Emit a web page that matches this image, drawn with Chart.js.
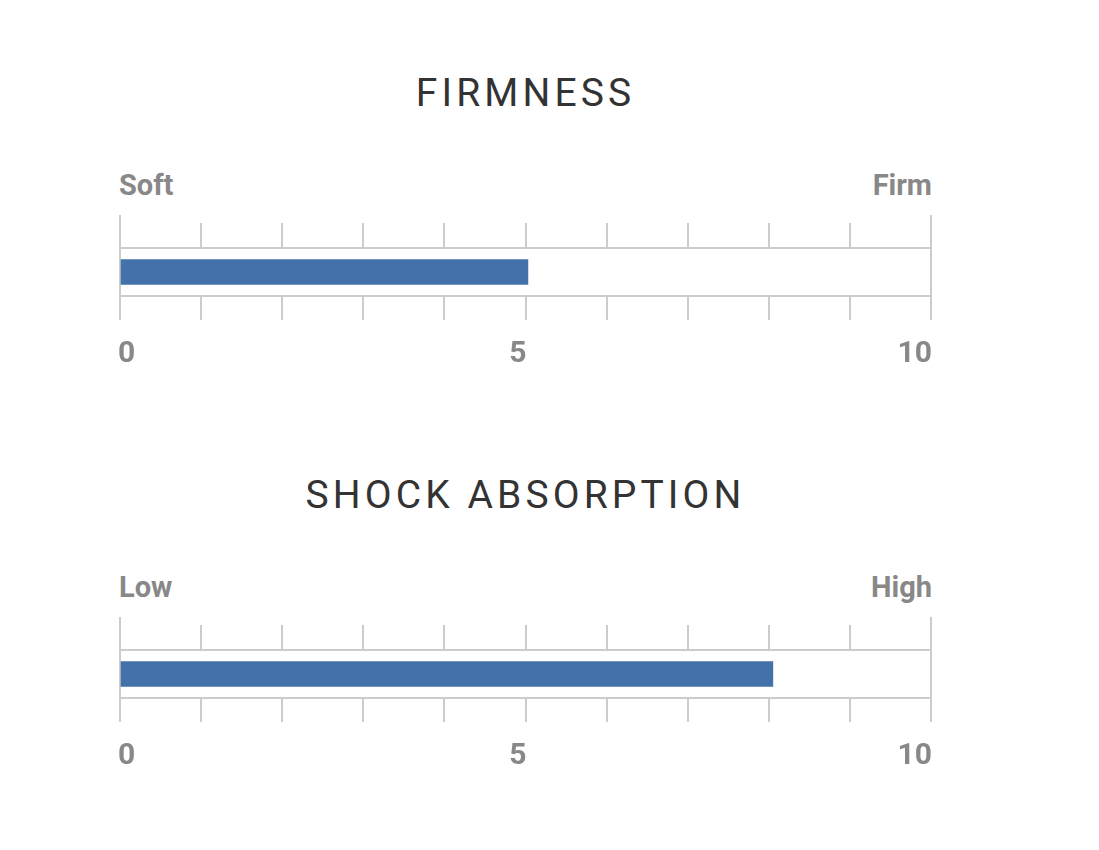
<!DOCTYPE html>
<html>
<head>
<meta charset="utf-8">
<script src="https://cdn.jsdelivr.net/npm/chart.js@4/dist/chart.umd.min.js"></script>
<style>
    html, body { margin: 0; padding: 0; background: #fff; }
    body { width: 1099px; height: 850px; position: relative; overflow: hidden; font-family: Roboto, "Noto Sans", sans-serif; }
    .title { position: absolute; left: 120px; width: 811px; text-align: center; font-size: 39px; line-height: 39px; letter-spacing: 4.1px; color: #333; white-space: nowrap; }
    .ends { position: absolute; left: 119px; width: 813px; display: flex; justify-content: space-between; font-size: 29px; line-height: 29px; font-weight: bold; color: #888; }
    .box { position: absolute; left: 0; width: 1099px; height: 200px; }
</style>
</head>
<body>
<div id="panels"></div>
<script>
// gauge data
const panelTitles = ['FIRMNESS', 'SHOCK ABSORPTION'];
const lowLabels = ['Soft', 'Low'];
const highLabels = ['Firm', 'High'];
const scores = [5.03, 8.05];
const scaleMin = 0;
const scaleMax = 10;
const tickLabels = [0, 5, 10];

const LINE = '#cccccc';
const BAR = '#4372aa';
const LABEL = '#888888';
const PANEL_STEP = 402;

// draws the long end marks above the band and the 0 / 5 / 10 labels
const gaugeExtras = {
    id: 'gaugeExtras',
    afterDraw(chart) {
        const ctx = chart.ctx;
        const area = chart.chartArea;
        const x = chart.scales.x;
        ctx.save();
        ctx.strokeStyle = LINE;
        ctx.lineWidth = 2;
        [scaleMin, scaleMax].forEach(v => {
            const px = Math.round(x.getPixelForValue(v));
            ctx.beginPath();
            ctx.moveTo(px, area.top - 33);
            ctx.lineTo(px, area.top);
            ctx.stroke();
        });
        ctx.fillStyle = LABEL;
        ctx.font = 'bold 30px Roboto';
        ctx.textBaseline = 'alphabetic';
        tickLabels.forEach(v => {
            ctx.textAlign = v === scaleMin ? 'left' : 'right';
            const px = x.getPixelForValue(v) + (v === scaleMin ? -2 : 1);
            ctx.fillText(String(v), px, area.bottom + 66);
        });
        ctx.restore();
    }
};

function isEnd(c) {
    return c.tick && (c.tick.value === scaleMin || c.tick.value === scaleMax);
}

const panels = document.getElementById('panels');

panelTitles.forEach((title, i) => {
    const off = i * PANEL_STEP;

    const t = document.createElement('div');
    t.className = 'title';
    t.style.top = (107 - 33 + off) + 'px';
    t.textContent = title;
    panels.appendChild(t);

    const ends = document.createElement('div');
    ends.className = 'ends';
    ends.style.top = (195 - 24 + off) + 'px';
    ends.innerHTML = '<span>' + lowLabels[i] + '</span><span>' + highLabels[i] + '</span>';
    panels.appendChild(ends);

    const box = document.createElement('div');
    box.className = 'box';
    box.style.top = (200 + off) + 'px';
    const canvas = document.createElement('canvas');
    box.appendChild(canvas);
    panels.appendChild(box);

    new Chart(canvas.getContext('2d'), {
        type: 'bar',
        data: {
            labels: [title],
            datasets: [{
                data: [scores[i]],
                backgroundColor: BAR,
                borderWidth: 0,
                barThickness: 25
            }]
        },
        options: {
            indexAxis: 'y',
            responsive: true,
            maintainAspectRatio: false,
            animation: false,
            layout: { padding: { left: 120, right: 168, top: 23, bottom: 80 } },
            plugins: {
                legend: { display: false },
                tooltip: { enabled: false }
            },
            scales: {
                x: {
                    type: 'linear',
                    position: 'bottom',
                    min: scaleMin,
                    max: scaleMax,
                    ticks: { stepSize: 1, display: false },
                    grid: {
                        color: c => isEnd(c) ? LINE : 'rgba(0,0,0,0)',
                        tickColor: LINE,
                        lineWidth: 2,
                        tickWidth: 2,
                        tickLength: 24
                    },
                    border: { display: true, color: LINE, width: 2 }
                },
                xTop: {
                    type: 'linear',
                    position: 'top',
                    min: scaleMin,
                    max: scaleMax,
                    ticks: { stepSize: 1, display: false },
                    grid: {
                        drawOnChartArea: false,
                        color: LINE,
                        lineWidth: 2,
                        tickLength: 25
                    },
                    border: { display: true, color: LINE, width: 2 }
                },
                y: { display: false }
            }
        },
        plugins: [gaugeExtras]
    });
});
</script>
</body>
</html>
